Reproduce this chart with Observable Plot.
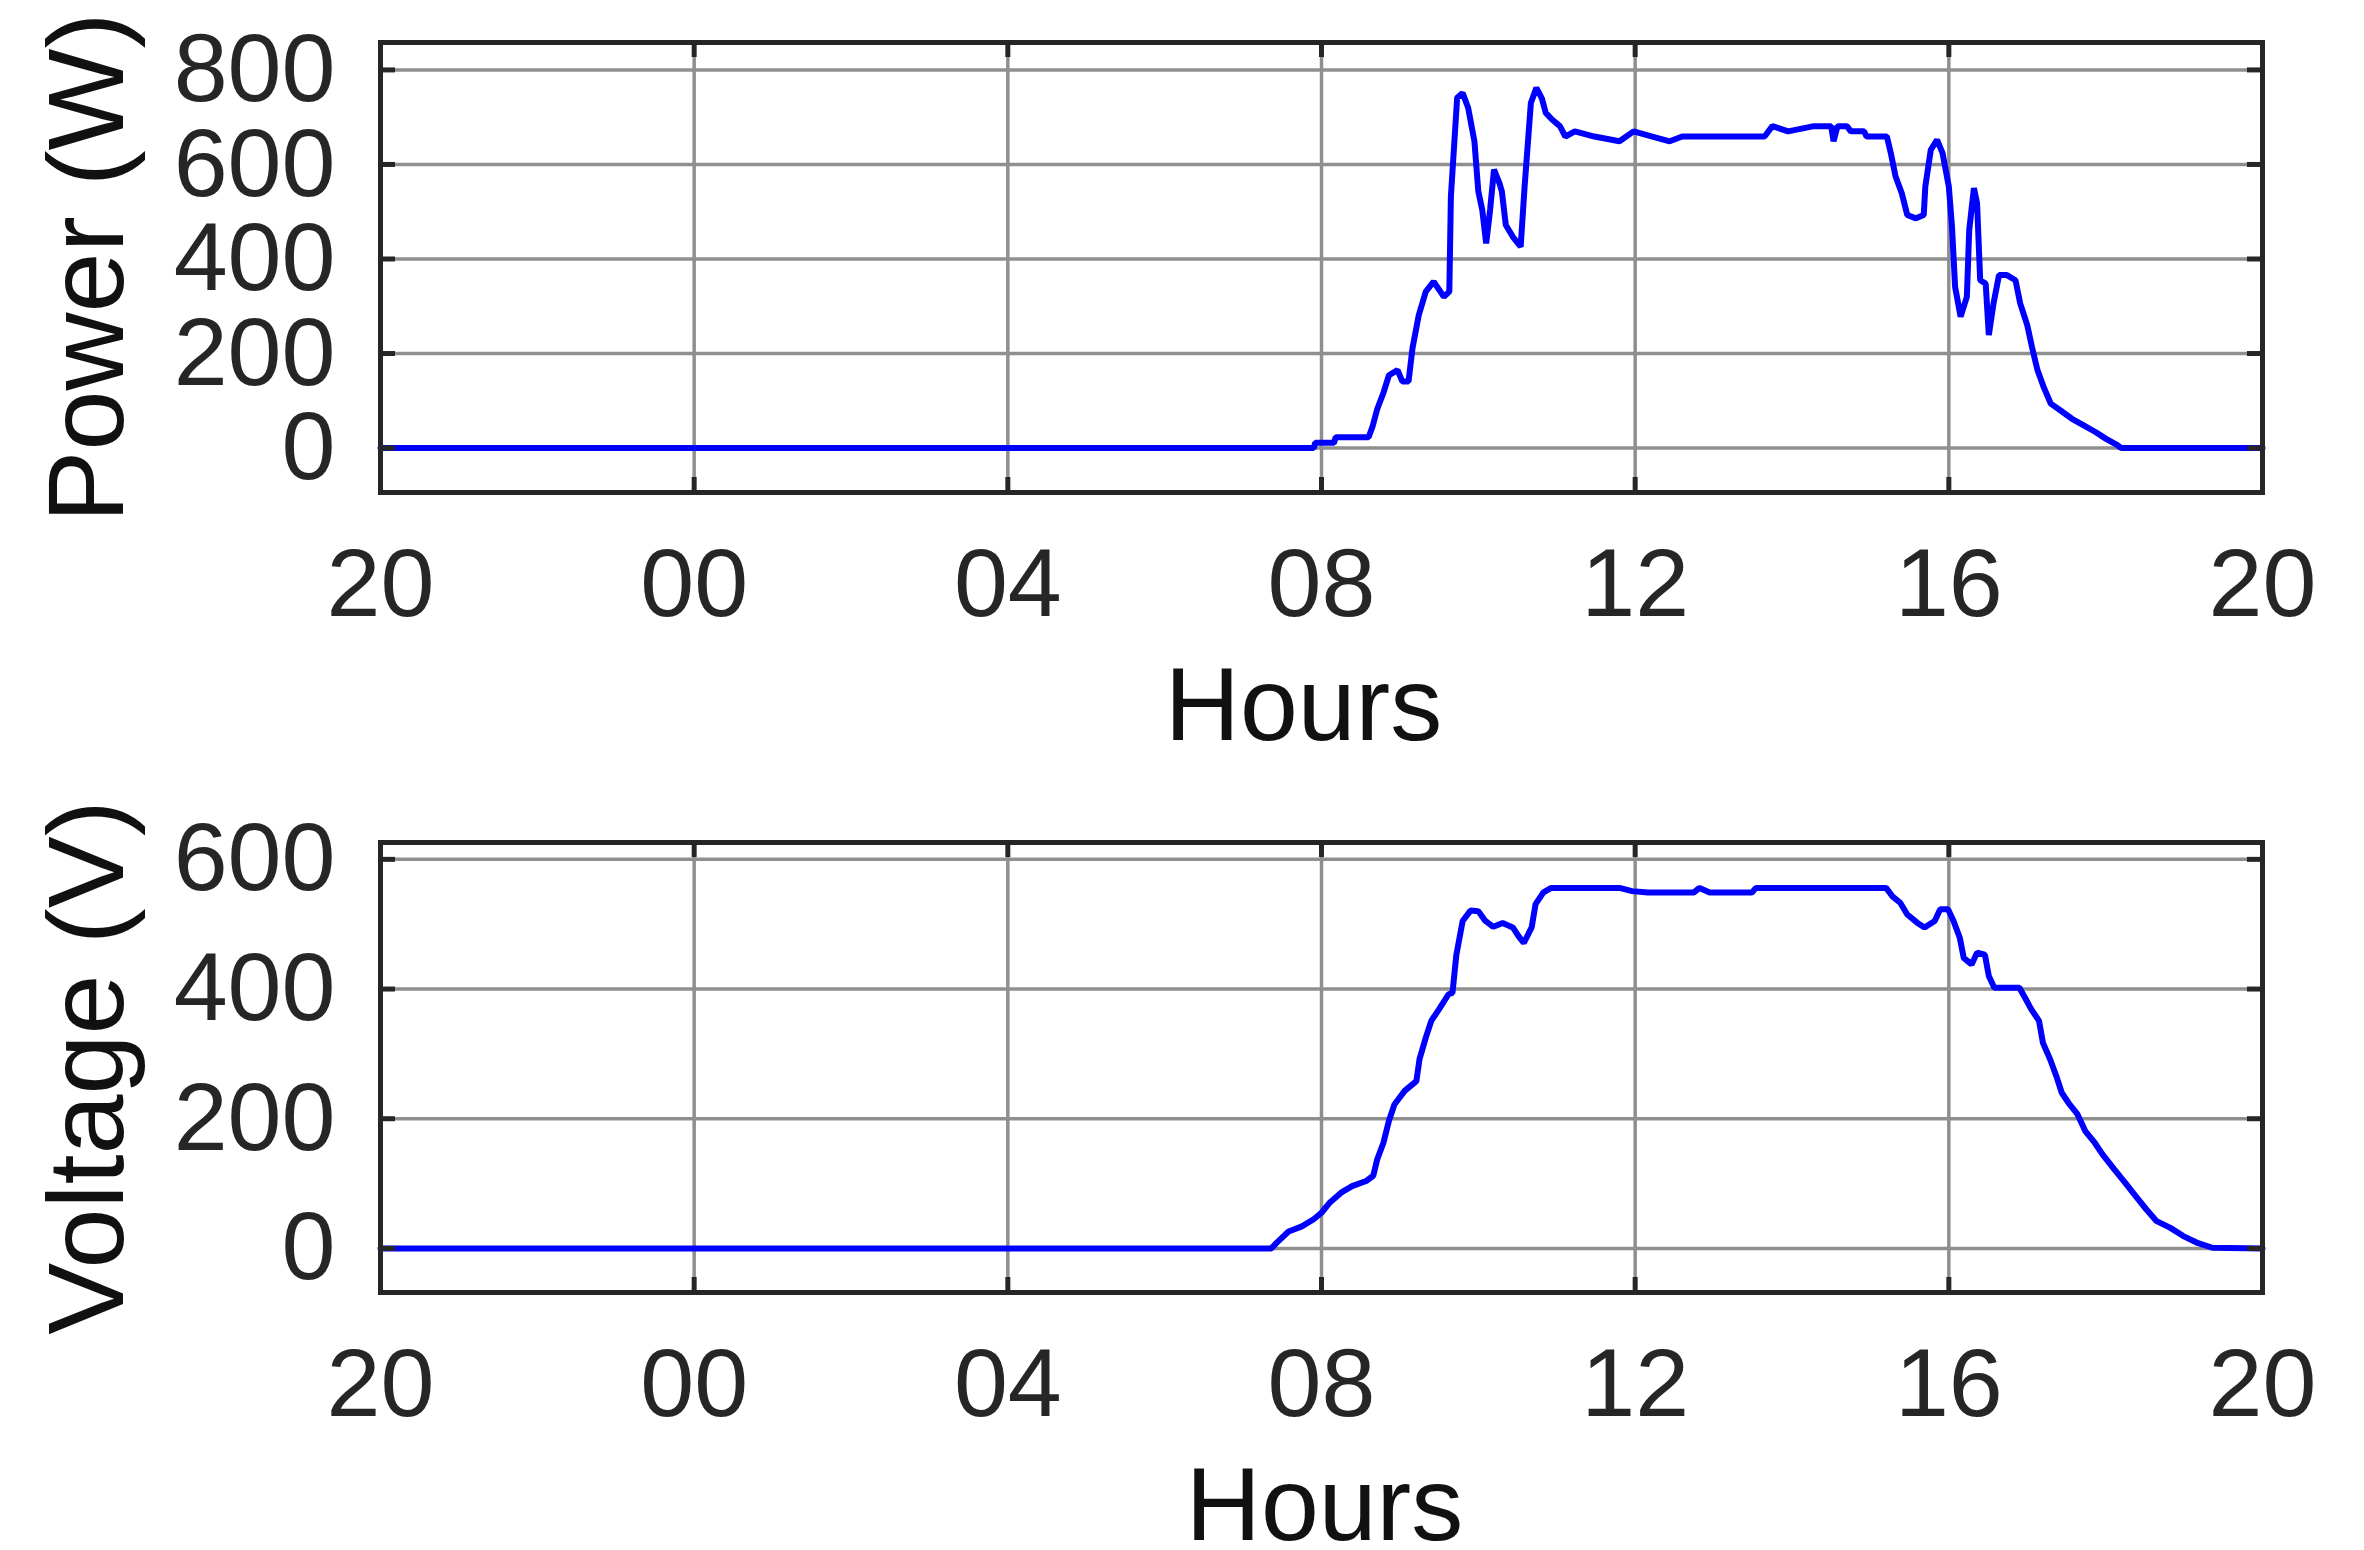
<!DOCTYPE html>
<html>
<head>
<meta charset="utf-8">
<script src="https://cdn.jsdelivr.net/npm/d3@7"></script>
<script src="https://cdn.jsdelivr.net/npm/@observablehq/plot@0.6"></script>
<style>
  html, body { margin: 0; padding: 0; background: #ffffff; }
  svg { display: block; }
</style>
</head>
<body>
<script>
// ---- Data ----
// Hours are measured from midnight; -4 = 20:00 of the previous day, 20 = 20:00.
const hourTicks = [-4, 0, 4, 8, 12, 16, 20];
const hourTickLabels = ["20", "00", "04", "08", "12", "16", "20"];

const powerTicks = [0, 200, 400, 600, 800];
const voltageTicks = [0, 200, 400, 600];

const powerHours = [-4, 7.9, 7.92, 8.16, 8.18, 8.6, 8.65, 8.71, 8.79, 8.86, 8.97, 9.03, 9.11, 9.16, 9.24, 9.33, 9.43, 9.5, 9.56, 9.63, 9.65, 9.73, 9.8, 9.87, 9.95, 10.0, 10.05, 10.1, 10.15, 10.2, 10.27, 10.3, 10.35, 10.44, 10.54, 10.59, 10.67, 10.74, 10.81, 10.86, 10.94, 11.04, 11.11, 11.23, 11.48, 11.8, 11.98, 12.22, 12.44, 12.6, 13.65, 13.75, 13.95, 14.28, 14.5, 14.53, 14.58, 14.7, 14.75, 14.92, 14.95, 15.21, 15.26, 15.32, 15.4, 15.47, 15.58, 15.68, 15.7, 15.77, 15.85, 15.92, 16.0, 16.04, 16.08, 16.15, 16.23, 16.26, 16.32, 16.36, 16.4, 16.47, 16.51, 16.57, 16.64, 16.74, 16.85, 16.91, 17.0, 17.06, 17.13, 17.21, 17.3, 17.42, 17.57, 17.72, 17.87, 18.0, 18.15, 18.2, 20];
const powerWatts = [0, 0, 11, 11, 23, 23, 45, 82, 117, 154, 165, 141, 141, 211, 281, 331, 352, 335, 320, 331, 532, 741, 751, 720, 649, 543, 504, 433, 504, 589, 560, 543, 472, 447, 426, 553, 730, 762, 740, 709, 695, 681, 659, 670, 659, 649, 670, 659, 649, 659, 659, 681, 670, 681, 681, 649, 681, 681, 670, 670, 659, 659, 624, 575, 539, 493, 486, 493, 553, 631, 652, 624, 553, 469, 341, 278, 320, 461, 550, 518, 355, 348, 239, 306, 366, 366, 355, 306, 260, 214, 165, 129, 94, 80, 62, 48, 34, 20, 6, 0, 0];

const voltageHours = [-4, 7.36, 7.43, 7.58, 7.75, 7.9, 8.0, 8.1, 8.25, 8.39, 8.57, 8.66, 8.71, 8.79, 8.86, 8.93, 9.06, 9.21, 9.25, 9.33, 9.4, 9.5, 9.62, 9.67, 9.72, 9.8, 9.9, 10.0, 10.09, 10.19, 10.31, 10.44, 10.51, 10.58, 10.68, 10.73, 10.83, 10.93, 11.8, 11.96, 12.16, 12.75, 12.82, 12.95, 13.49, 13.54, 15.2, 15.28, 15.38, 15.47, 15.6, 15.69, 15.82, 15.89, 15.99, 16.06, 16.14, 16.19, 16.29, 16.36, 16.46, 16.51, 16.58, 16.9, 16.97, 17.05, 17.15, 17.2, 17.29, 17.37, 17.44, 17.54, 17.64, 17.74, 17.86, 17.96, 18.11, 18.25, 18.38, 18.52, 18.65, 18.82, 18.99, 19.16, 19.36, 20];
const voltageVolts = [0, 0, 9, 26, 34, 45, 55, 70, 86, 96, 104, 112, 137, 163, 197, 222, 243, 258, 292, 325, 351, 369, 392, 394, 453, 505, 521, 520, 505, 496, 502, 495, 482, 471, 495, 531, 549, 556, 556, 551, 549, 549, 556, 549, 549, 556, 556, 543, 533, 515, 502, 495, 505, 523, 523, 505, 479, 448, 438, 456, 453, 420, 402, 402, 387, 369, 351, 317, 292, 266, 240, 222, 207, 181, 163, 145, 122, 101, 81, 60, 42, 32, 19, 9, 1, 0];

// ---- Layout / style ----
const W = 2364;
const H = 775;
const ML = 380, MR = 102;
const FRAME_H = 450;
const PLOT_W = W - ML - MR;
const TICK_LEN = 15;
const FONT = "'Liberation Sans', Arial, Helvetica, sans-serif";

const powerData = powerHours.map((h, i) => ({h, v: powerWatts[i]}));
const voltageData = voltageHours.map((h, i) => ({h, v: voltageVolts[i]}));

function panel({data, yDomain, yTicks, ylabel, marginTop, hoursDx}) {
  const marginBottom = H - marginTop - FRAME_H;
  const dark = "#262626";
  const grid = "#8f8f8f";
  return Plot.plot({
    width: W,
    height: H,
    marginLeft: ML,
    marginRight: MR,
    marginTop,
    marginBottom,
    x: {domain: [-4, 20]},
    y: {domain: yDomain},
    style: {fontFamily: FONT, background: "#ffffff", color: dark, overflow: "visible"},
    marks: [
      Plot.gridX(hourTicks, {stroke: grid, strokeOpacity: 1, strokeWidth: 3.5}),
      Plot.gridY(yTicks, {stroke: grid, strokeOpacity: 1, strokeWidth: 3.5}),
      Plot.line(data, {x: "h", y: "v", stroke: "#0000ff", strokeWidth: 6, strokeLinejoin: "miter"}),
      // inside ticks (MATLAB style): bottom, top, left, right
      Plot.tickX(hourTicks, {x: d => d, insetTop: FRAME_H - TICK_LEN, stroke: dark, strokeWidth: 5}),
      Plot.tickX(hourTicks, {x: d => d, insetBottom: FRAME_H - TICK_LEN, stroke: dark, strokeWidth: 5}),
      Plot.tickY(yTicks, {y: d => d, insetRight: PLOT_W - TICK_LEN, stroke: dark, strokeWidth: 5}),
      Plot.tickY(yTicks, {y: d => d, insetLeft: PLOT_W - TICK_LEN, stroke: dark, strokeWidth: 5}),
      Plot.frame({stroke: dark, strokeWidth: 5}),
      Plot.axisX(hourTicks, {
        tickSize: 0, tickPadding: 55, fontSize: 97, fill: dark, label: null,
        tickFormat: d => hourTickLabels[hourTicks.indexOf(d)]
      }),
      Plot.axisY(yTicks, {tickSize: 0, tickPadding: 45, fontSize: 97, fill: dark, label: null}),
      Plot.text(["Hours"], {
        frameAnchor: "bottom", lineAnchor: "top", textAnchor: "middle", dy: 174, dx: hoursDx,
        fontSize: 104, fill: "#111111", text: d => d
      }),
      Plot.text([ylabel], {
        frameAnchor: "left", rotate: -90, lineAnchor: "middle", textAnchor: "middle", dx: 88 - ML,
        fontSize: 108, fill: "#111111", text: d => d
      })
    ]
  });
}

document.body.appendChild(panel({
  data: powerData, yDomain: [-94, 858], yTicks: powerTicks,
  ylabel: "Power (W)", marginTop: 42, hoursDx: -18
}));
document.body.appendChild(panel({
  data: voltageData, yDomain: [-68, 626], yTicks: voltageTicks,
  ylabel: "Voltage (V)", marginTop: 67, hoursDx: 3
}));
</script>
</body>
</html>
